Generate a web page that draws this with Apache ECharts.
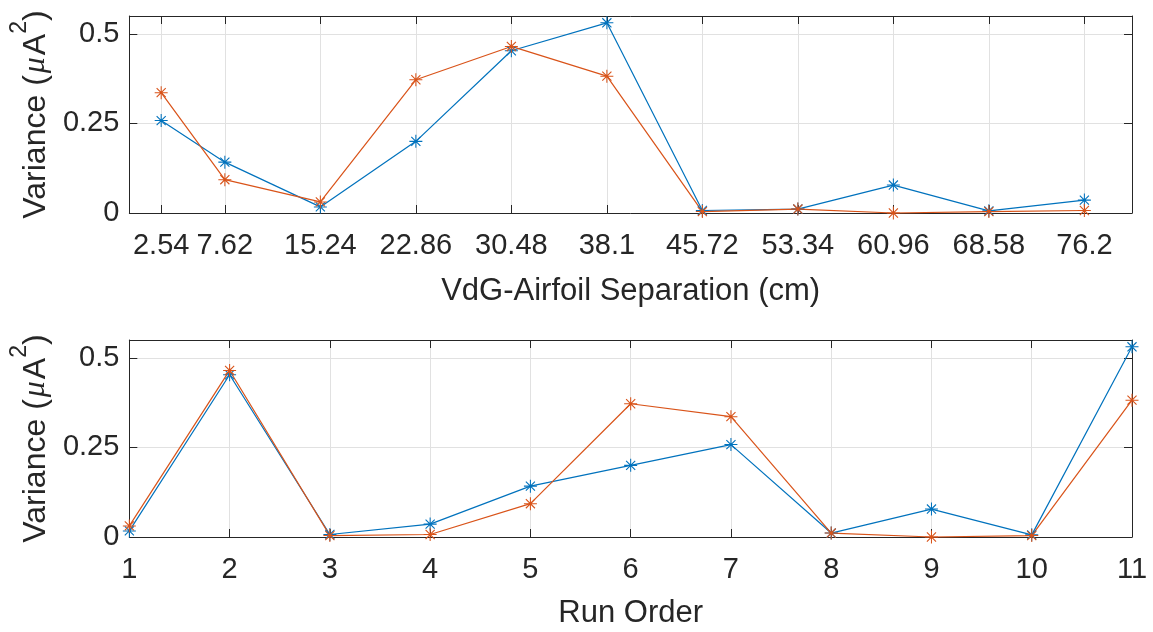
<!DOCTYPE html>
<html>
<head>
<meta charset="utf-8">
<script src="https://cdn.jsdelivr.net/npm/echarts@6/dist/echarts.min.js"></script>
<style>
  html, body { margin: 0; padding: 0; background: #ffffff; }
  #chart { width: 1153px; height: 632px; }
</style>
</head>
<body>
<div id="chart"></div>
<script>
// VdG–airfoil separation (cm) for each measurement position
const separationCm = [2.54, 7.62, 15.24, 22.86, 30.48, 38.1, 45.72, 53.34, 60.96, 68.58, 76.2];
// Order in which each separation was run
const runOrder = [7, 5, 1, 6, 2, 11, 3, 8, 9, 10, 4];
// Current variance (µA²) for the two channels, per separation
const varianceBlue = [0.258, 0.142, 0.017, 0.200, 0.453, 0.531, 0.007, 0.011, 0.078, 0.006, 0.036];
const varianceOrange = [0.336, 0.093, 0.031, 0.372, 0.465, 0.382, 0.004, 0.011, 0.000, 0.004, 0.007];
// Tick labels
const yTicks = [0, 0.25, 0.5];
const runTicks = [1, 2, 3, 4, 5, 6, 7, 8, 9, 10, 11];

const FONT = "'Liberation Sans', Arial, Helvetica, sans-serif";
const INK = '#262626';
const BLUE = '#0072BD';
const ORANGE = '#D95319';
const GRID_LINE = '#e1e1e1';

// Asterisk marker: vertical, horizontal and two diagonal strokes
const ASTERISK = 'path://M9.2 0 L10.8 0 L10.8 20 L9.2 20 Z ' +
  'M0 9.2 L20 9.2 L20 10.8 L0 10.8 Z ' +
  'M2.4 3.6 L3.6 2.4 L17.6 16.4 L16.4 17.6 Z ' +
  'M16.4 2.4 L17.6 3.6 L3.6 17.6 L2.4 16.4 Z';

const pairs = (xs, ys) => xs.map((x, i) => [x, ys[i]]);
const byRun = (ys) => runOrder.map((r, i) => [r, ys[i]]).sort((a, b) => a[0] - b[0]);

const yName = '{t|Variance (}{mu|μ}{t|A}{s|2}{t|)}';
const yNameStyle = {
  rich: {
    t: { fontFamily: FONT, fontSize: 32, color: INK, verticalAlign: 'bottom', lineHeight: 44 },
    mu: { fontFamily: "'Liberation Serif', serif", fontStyle: 'italic', fontSize: 32, color: INK, verticalAlign: 'bottom', lineHeight: 44, padding: [0, 2, 0, 2] },
    s: { fontFamily: FONT, fontSize: 23, color: INK, verticalAlign: 'top', lineHeight: 44 }
  }
};

const axisLine = { show: true, onZero: false, lineStyle: { color: INK, width: 1 } };
const tick = (vals) => ({ show: true, inside: true, length: 8, lineStyle: { color: INK, width: 1 }, customValues: vals });
const labelStyle = { fontFamily: FONT, fontSize: 29, color: INK };

function xAxes(gridIndex, min, max, ticks, name, nameGap) {
  return [
    {
      type: 'value', gridIndex, min, max, position: 'bottom',
      axisLine, axisTick: tick(ticks),
      axisLabel: Object.assign({ margin: 18, customValues: ticks, hideOverlap: false }, labelStyle),
      splitLine: { show: true, lineStyle: { color: GRID_LINE, width: 1 } },
      name, nameLocation: 'middle', nameGap,
      nameTextStyle: { fontFamily: FONT, fontSize: 31, color: INK }
    },
    {
      type: 'value', gridIndex, min, max, position: 'top',
      axisLine, axisTick: tick(ticks), axisLabel: { show: false }, splitLine: { show: false }
    }
  ];
}

function yAxes(gridIndex) {
  return [
    {
      type: 'value', gridIndex, min: 0, max: 0.55, position: 'left',
      axisLine, axisTick: tick(yTicks),
      axisLabel: Object.assign({ margin: 10, customValues: yTicks }, labelStyle),
      splitLine: { show: true, lineStyle: { color: GRID_LINE, width: 1 } },
      name: yName, nameLocation: 'middle', nameGap: 70, nameRotate: 90,
      nameTextStyle: yNameStyle
    },
    {
      type: 'value', gridIndex, min: 0, max: 0.55, position: 'right',
      axisLine, axisTick: tick(yTicks), axisLabel: { show: false }, splitLine: { show: false }
    }
  ];
}

function lineSeries(xAxisIndex, yAxisIndex, data, color) {
  return {
    type: 'line', xAxisIndex, yAxisIndex, data,
    symbol: ASTERISK, symbolSize: 13, showSymbol: true, clip: false,
    lineStyle: { color, width: 1.2 },
    itemStyle: { color },
    emphasis: { disabled: true },
    animation: false
  };
}

const chart = echarts.init(document.getElementById('chart'), null, { renderer: 'canvas' });
chart.setOption({
  backgroundColor: '#ffffff',
  animation: false,
  grid: [
    { left: 127, top: 16, width: 1005, height: 197 },
    { left: 127, top: 340, width: 1005, height: 197 }
  ],
  xAxis: [
    ...xAxes(0, 0, 80, separationCm, 'VdG-Airfoil Separation (cm)', 63),
    ...xAxes(1, 1, 11, runTicks, 'Run Order', 61)
  ],
  yAxis: [...yAxes(0), ...yAxes(1)],
  series: [
    lineSeries(0, 0, pairs(separationCm, varianceBlue), BLUE),
    lineSeries(0, 0, pairs(separationCm, varianceOrange), ORANGE),
    lineSeries(2, 2, byRun(varianceBlue), BLUE),
    lineSeries(2, 2, byRun(varianceOrange), ORANGE)
  ]
});
</script>
</body>
</html>
